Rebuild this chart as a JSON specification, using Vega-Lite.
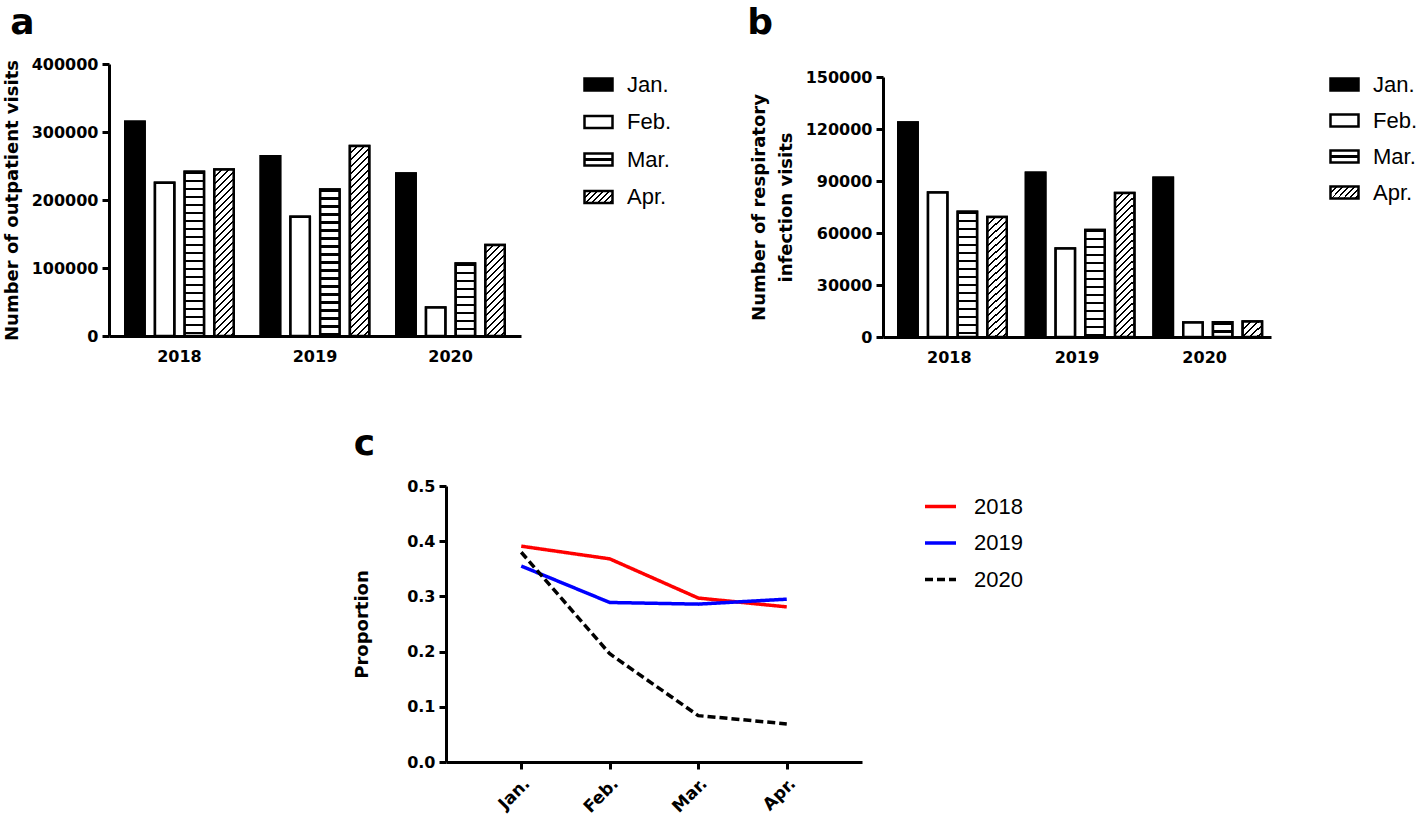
{
 "$schema": "https://vega.github.io/schema/vega-lite/v6.json",
 "background": "white",
 "padding": {"left": 3, "top": 5, "right": 0, "bottom": 0},
 "params": [{"name": "stripes", "value": [
{"offset":0,"color":"black"},{"offset":0.009,"color":"black"},{"offset":0.009,"color":"white"},{"offset":0.03125,"color":"white"},
{"offset":0.03125,"color":"black"},{"offset":0.04025,"color":"black"},{"offset":0.04025,"color":"white"},{"offset":0.0625,"color":"white"},
{"offset":0.0625,"color":"black"},{"offset":0.0715,"color":"black"},{"offset":0.0715,"color":"white"},{"offset":0.09375,"color":"white"},
{"offset":0.09375,"color":"black"},{"offset":0.10275,"color":"black"},{"offset":0.10275,"color":"white"},{"offset":0.125,"color":"white"},
{"offset":0.125,"color":"black"},{"offset":0.134,"color":"black"},{"offset":0.134,"color":"white"},{"offset":0.15625,"color":"white"},
{"offset":0.15625,"color":"black"},{"offset":0.16525,"color":"black"},{"offset":0.16525,"color":"white"},{"offset":0.1875,"color":"white"},
{"offset":0.1875,"color":"black"},{"offset":0.1965,"color":"black"},{"offset":0.1965,"color":"white"},{"offset":0.21875,"color":"white"},
{"offset":0.21875,"color":"black"},{"offset":0.22775,"color":"black"},{"offset":0.22775,"color":"white"},{"offset":0.25,"color":"white"},
{"offset":0.25,"color":"black"},{"offset":0.259,"color":"black"},{"offset":0.259,"color":"white"},{"offset":0.28125,"color":"white"},
{"offset":0.28125,"color":"black"},{"offset":0.29025,"color":"black"},{"offset":0.29025,"color":"white"},{"offset":0.3125,"color":"white"},
{"offset":0.3125,"color":"black"},{"offset":0.3215,"color":"black"},{"offset":0.3215,"color":"white"},{"offset":0.34375,"color":"white"},
{"offset":0.34375,"color":"black"},{"offset":0.35275,"color":"black"},{"offset":0.35275,"color":"white"},{"offset":0.375,"color":"white"},
{"offset":0.375,"color":"black"},{"offset":0.384,"color":"black"},{"offset":0.384,"color":"white"},{"offset":0.40625,"color":"white"},
{"offset":0.40625,"color":"black"},{"offset":0.41525,"color":"black"},{"offset":0.41525,"color":"white"},{"offset":0.4375,"color":"white"},
{"offset":0.4375,"color":"black"},{"offset":0.4465,"color":"black"},{"offset":0.4465,"color":"white"},{"offset":0.46875,"color":"white"},
{"offset":0.46875,"color":"black"},{"offset":0.47775,"color":"black"},{"offset":0.47775,"color":"white"},{"offset":0.5,"color":"white"},
{"offset":0.5,"color":"black"},{"offset":0.509,"color":"black"},{"offset":0.509,"color":"white"},{"offset":0.53125,"color":"white"},
{"offset":0.53125,"color":"black"},{"offset":0.54025,"color":"black"},{"offset":0.54025,"color":"white"},{"offset":0.5625,"color":"white"},
{"offset":0.5625,"color":"black"},{"offset":0.5715,"color":"black"},{"offset":0.5715,"color":"white"},{"offset":0.59375,"color":"white"},
{"offset":0.59375,"color":"black"},{"offset":0.60275,"color":"black"},{"offset":0.60275,"color":"white"},{"offset":0.625,"color":"white"},
{"offset":0.625,"color":"black"},{"offset":0.634,"color":"black"},{"offset":0.634,"color":"white"},{"offset":0.65625,"color":"white"},
{"offset":0.65625,"color":"black"},{"offset":0.66525,"color":"black"},{"offset":0.66525,"color":"white"},{"offset":0.6875,"color":"white"},
{"offset":0.6875,"color":"black"},{"offset":0.6965,"color":"black"},{"offset":0.6965,"color":"white"},{"offset":0.71875,"color":"white"},
{"offset":0.71875,"color":"black"},{"offset":0.72775,"color":"black"},{"offset":0.72775,"color":"white"},{"offset":0.75,"color":"white"},
{"offset":0.75,"color":"black"},{"offset":0.759,"color":"black"},{"offset":0.759,"color":"white"},{"offset":0.78125,"color":"white"},
{"offset":0.78125,"color":"black"},{"offset":0.79025,"color":"black"},{"offset":0.79025,"color":"white"},{"offset":0.8125,"color":"white"},
{"offset":0.8125,"color":"black"},{"offset":0.8215,"color":"black"},{"offset":0.8215,"color":"white"},{"offset":0.84375,"color":"white"},
{"offset":0.84375,"color":"black"},{"offset":0.85275,"color":"black"},{"offset":0.85275,"color":"white"},{"offset":0.875,"color":"white"},
{"offset":0.875,"color":"black"},{"offset":0.884,"color":"black"},{"offset":0.884,"color":"white"},{"offset":0.90625,"color":"white"},
{"offset":0.90625,"color":"black"},{"offset":0.91525,"color":"black"},{"offset":0.91525,"color":"white"},{"offset":0.9375,"color":"white"},
{"offset":0.9375,"color":"black"},{"offset":0.9465,"color":"black"},{"offset":0.9465,"color":"white"},{"offset":0.96875,"color":"white"},
{"offset":0.96875,"color":"black"},{"offset":0.97775,"color":"black"},{"offset":0.97775,"color":"white"},{"offset":1,"color":"white"}
 ]}],
 "config": {
  "view": {"stroke": null},
  "font": "DejaVu Sans",
  "axis": {"domainColor": "black", "domainWidth": 3, "tickColor": "black", "tickWidth": 3, "tickSize": 7, "labelFont": "DejaVu Sans", "labelFontWeight": "bold", "labelFontSize": 16, "labelColor": "black", "titleFont": "DejaVu Sans", "titleFontWeight": "bold", "titleFontSize": 18, "titleColor": "black", "grid": false, "labelPadding": 4},
  "legend": {"labelFont": "Liberation Sans", "labelFontSize": 22, "labelColor": "black", "padding": 5},
  "title": {"font": "DejaVu Sans", "fontWeight": "bold", "fontSize": 36, "color": "black", "anchor": "start"}
 },
 "resolve": {"scale": {"fill": "independent", "color": "independent", "strokeDash": "independent"}, "legend": {"fill": "independent", "color": "independent", "strokeDash": "independent"}},
 "spacing": 61,
 "vconcat": [
  {
   "spacing": 70,
   "resolve": {"scale": {"fill": "independent"}, "legend": {"fill": "independent"}},
   "hconcat": [
    {
     "width": 412, "height": 272,
     "title": {"text": "a", "dx": 7, "offset": 14},
     "data": {"values": [
      {"year": "2018", "month": "Jan.", "value": 315000},
      {"year": "2018", "month": "Feb.", "value": 225500},
      {"year": "2018", "month": "Mar.", "value": 241500},
      {"year": "2018", "month": "Apr.", "value": 245000},
      {"year": "2019", "month": "Jan.", "value": 264500},
      {"year": "2019", "month": "Feb.", "value": 175500},
      {"year": "2019", "month": "Mar.", "value": 215500},
      {"year": "2019", "month": "Apr.", "value": 279500},
      {"year": "2020", "month": "Jan.", "value": 239000},
      {"year": "2020", "month": "Feb.", "value": 42000},
      {"year": "2020", "month": "Mar.", "value": 106500},
      {"year": "2020", "month": "Apr.", "value": 134000}
     ]},
     "encoding": {
      "x": {"field": "year", "type": "nominal", "scale": {"paddingInner": 0.2, "paddingOuter": 0.12}, "axis": {"title": null, "labelAngle": 0, "ticks": false, "labelPadding": 12}},
      "xOffset": {"field": "month", "type": "nominal", "sort": ["Jan.", "Feb.", "Mar.", "Apr."], "scale": {"paddingInner": 0.35}},
      "y": {"field": "value", "type": "quantitative", "scale": {"domain": [0, 400000], "nice": false}, "axis": {"values": [0, 100000, 200000, 300000, 400000], "format": "d", "title": "Number of outpatient visits", "titlePadding": 10}}
     },
     "layer": [
      {
       "mark": {"type": "bar", "stroke": "black", "strokeWidth": 2.5},
       "encoding": {
        "fill": {"field": "month", "type": "nominal",
         "scale": {"domain": ["Jan.", "Feb.", "Mar.", "Apr."], "range": ["black", "white",
          {"expr": "{gradient: 'linear', x1: 0, y1: 0, x2: 0, y2: 1, stops: [{offset: 0, color: 'white'}, {offset: 0.38, color: 'white'}, {offset: 0.38, color: 'black'}, {offset: 0.62, color: 'black'}, {offset: 0.62, color: 'white'}, {offset: 1, color: 'white'}]}"},
          {"expr": "{gradient: 'linear', x1: 0, y1: 0, x2: 5.79, y2: 2.48, stops: stripes}"}]},
         "legend": {"title": null, "orient": "right", "offset": 57, "symbolType": "M-1,-0.43H1V0.43H-1Z", "symbolSize": 784, "symbolStrokeColor": "black", "symbolStrokeWidth": 2.5, "rowPadding": 10.5, "labelOffset": 13,
          "encode": {"symbols": {"update": {"stroke": {"value": "black"}, "strokeWidth": {"value": 2.5}}}}}}
       }
      },
      {
       "mark": {"type": "bar", "stroke": "black", "strokeWidth": 2.5},
       "encoding": {
        "fill": {"value": {"expr": "datum.month === 'Jan.' ? 'black' : datum.month === 'Feb.' ? 'white' : datum.month === 'Mar.' ? {gradient: 'linear', x1: 0, y1: 0, x2: 0, y2: 256 / max(1, datum.value * 0.00068), stops: stripes} : {gradient: 'linear', x1: 0, y1: 0, x2: 224 * 19.3 / (372.5 + pow(datum.value * 0.00068, 2)), y2: 224 * datum.value * 0.00068 / (372.5 + pow(datum.value * 0.00068, 2)), stops: stripes}"}}
       }
      }
     ]
    },
    {
     "spacing": 0,
     "title": {"text": "b", "dx": -3, "offset": 22},
     "vconcat": [
      {
       "width": 10, "height": 5,
       "data": {"values": []},
       "mark": {"type": "point", "opacity": 0}
      },
      {
       "width": 388, "height": 260,
       "data": {"values": [
        {"year": "2018", "month": "Jan.", "value": 123700},
        {"year": "2018", "month": "Feb.", "value": 83300},
        {"year": "2018", "month": "Mar.", "value": 72300},
        {"year": "2018", "month": "Apr.", "value": 69200},
        {"year": "2019", "month": "Jan.", "value": 94800},
        {"year": "2019", "month": "Feb.", "value": 51000},
        {"year": "2019", "month": "Mar.", "value": 61700},
        {"year": "2019", "month": "Apr.", "value": 83100},
        {"year": "2020", "month": "Jan.", "value": 91900},
        {"year": "2020", "month": "Feb.", "value": 8300},
        {"year": "2020", "month": "Mar.", "value": 8500},
        {"year": "2020", "month": "Apr.", "value": 9000}
       ]},
       "encoding": {
        "x": {"field": "year", "type": "nominal", "scale": {"paddingInner": 0.2, "paddingOuter": 0.12}, "axis": {"title": null, "labelAngle": 0, "ticks": false, "labelPadding": 12}},
        "xOffset": {"field": "month", "type": "nominal", "sort": ["Jan.", "Feb.", "Mar.", "Apr."], "scale": {"paddingInner": 0.35}},
        "y": {"field": "value", "type": "quantitative", "scale": {"domain": [0, 150000], "nice": false}, "axis": {"values": [0, 30000, 60000, 90000, 120000, 150000], "format": "d", "title": ["Number of respiratory", "infection visits"], "titlePadding": 10, "titleLineHeight": 27}}
       },
       "layer": [
        {
         "mark": {"type": "bar", "stroke": "black", "strokeWidth": 2.5},
         "encoding": {
          "fill": {"field": "month", "type": "nominal",
           "scale": {"domain": ["Jan.", "Feb.", "Mar.", "Apr."], "range": ["black", "white",
            {"expr": "{gradient: 'linear', x1: 0, y1: 0, x2: 0, y2: 1, stops: [{offset: 0, color: 'white'}, {offset: 0.38, color: 'white'}, {offset: 0.38, color: 'black'}, {offset: 0.62, color: 'black'}, {offset: 0.62, color: 'white'}, {offset: 1, color: 'white'}]}"},
            {"expr": "{gradient: 'linear', x1: 0, y1: 0, x2: 5.79, y2: 2.48, stops: stripes}"}]},
           "legend": {"title": null, "orient": "right", "offset": 53, "symbolType": "M-1,-0.43H1V0.43H-1Z", "symbolSize": 784, "symbolStrokeColor": "black", "symbolStrokeWidth": 2.5, "rowPadding": 9, "labelOffset": 13,
            "encode": {"symbols": {"update": {"stroke": {"value": "black"}, "strokeWidth": {"value": 2.5}}}}}}
         }
        },
        {
         "mark": {"type": "bar", "stroke": "black", "strokeWidth": 2.5},
         "encoding": {
          "fill": {"value": {"expr": "datum.month === 'Jan.' ? 'black' : datum.month === 'Feb.' ? 'white' : datum.month === 'Mar.' ? {gradient: 'linear', x1: 0, y1: 0, x2: 0, y2: 256 / max(1, datum.value * 0.0017333), stops: stripes} : {gradient: 'linear', x1: 0, y1: 0, x2: 224 * 18.2 / (331.2 + pow(datum.value * 0.0017333, 2)), y2: 224 * datum.value * 0.0017333 / (331.2 + pow(datum.value * 0.0017333, 2)), stops: stripes}"}}
         }
        }
       ]
      }
     ]
    }
   ]
  },
  {
   "spacing": 40,
   "resolve": {"scale": {"color": "independent", "strokeDash": "independent"}, "legend": {"color": "independent", "strokeDash": "independent"}},
   "hconcat": [
    {
     "width": 204, "height": 10,
     "data": {"values": []},
     "mark": {"type": "point", "opacity": 0}
    },
    {
     "width": 416, "height": 276,
     "title": {"text": "c", "dx": 0, "offset": 15},
     "data": {"values": [
      {"year": "2018", "month": "Jan.", "value": 0.391},
      {"year": "2018", "month": "Feb.", "value": 0.368},
      {"year": "2018", "month": "Mar.", "value": 0.297},
      {"year": "2018", "month": "Apr.", "value": 0.281},
      {"year": "2019", "month": "Jan.", "value": 0.355},
      {"year": "2019", "month": "Feb.", "value": 0.289},
      {"year": "2019", "month": "Mar.", "value": 0.286},
      {"year": "2019", "month": "Apr.", "value": 0.295},
      {"year": "2020", "month": "Jan.", "value": 0.380},
      {"year": "2020", "month": "Feb.", "value": 0.196},
      {"year": "2020", "month": "Mar.", "value": 0.084},
      {"year": "2020", "month": "Apr.", "value": 0.069}
     ]},
     "mark": {"type": "line", "strokeWidth": 3.5},
     "encoding": {
      "x": {"field": "month", "type": "ordinal", "sort": ["Jan.", "Feb.", "Mar.", "Apr."], "scale": {"type": "point", "padding": 0.85}, "axis": {"title": null, "labelAngle": -45, "labelPadding": 6, "labelFontSize": 17}},
      "y": {"field": "value", "type": "quantitative", "scale": {"domain": [0, 0.5], "nice": false}, "axis": {"values": [0, 0.1, 0.2, 0.3, 0.4, 0.5], "format": ".1f", "title": "Proportion", "titlePadding": 35}},
      "color": {"field": "year", "type": "nominal", "scale": {"domain": ["2018", "2019", "2020"], "range": ["#ff0000", "#0000ff", "#000000"]},
       "legend": {"title": null, "orient": "right", "offset": 58, "symbolType": "stroke", "symbolSize": 961, "symbolStrokeWidth": 3.5, "rowPadding": 7.5, "labelOffset": 16, "padding": 3}},
      "strokeDash": {"field": "year", "type": "nominal", "scale": {"domain": ["2018", "2019", "2020"], "range": [[1, 0], [1, 0], [8, 4]]},
       "legend": {"title": null, "orient": "right", "offset": 58, "symbolType": "stroke", "symbolSize": 961, "symbolStrokeWidth": 3.5, "rowPadding": 7.5, "labelOffset": 16, "padding": 3}}
     }
    }
   ]
  }
 ]
}
